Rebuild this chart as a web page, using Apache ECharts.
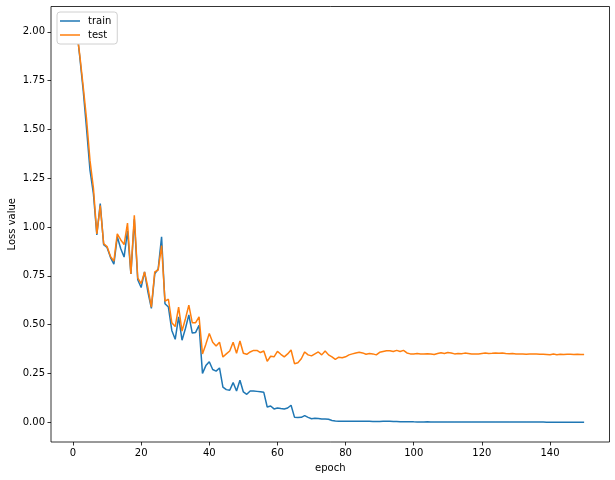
<!DOCTYPE html>
<html>
<head>
<meta charset="utf-8">
<script src="https://cdn.jsdelivr.net/npm/echarts@6/dist/echarts.min.js"></script>
<style>html,body{margin:0;padding:0;background:#fff}#c{width:615px;height:480px}</style>
</head>
<body>
<div id="c"></div>
<script>
const seriesNames = ['train', 'test'];
const xTicks = [0, 20, 40, 60, 80, 100, 120, 140];
const yTicks = [0, 0.25, 0.5, 0.75, 1.0, 1.25, 1.5, 1.75, 2.0];

const trainLoss = [
  2.03, 1.87, 1.70, 1.50, 1.29, 1.17, 0.96, 1.12, 0.91, 0.895,
  0.845, 0.81, 0.95, 0.89, 0.846, 0.98, 0.76, 1.04, 0.73, 0.69,
  0.77, 0.667, 0.583, 0.76, 0.785, 0.95, 0.607, 0.59, 0.47, 0.425,
  0.54, 0.42, 0.48, 0.55, 0.457, 0.46, 0.497, 0.25, 0.29, 0.31,
  0.27, 0.262, 0.278, 0.18, 0.167, 0.164, 0.203, 0.16, 0.215, 0.155,
  0.143, 0.16, 0.16, 0.158, 0.156, 0.153, 0.078, 0.083, 0.068, 0.073,
  0.07, 0.068, 0.073, 0.087, 0.026, 0.024, 0.025, 0.034, 0.025, 0.018,
  0.02, 0.019, 0.016, 0.017, 0.015, 0.009, 0.006, 0.005, 0.005, 0.005,
  0.005, 0.0055, 0.005, 0.0048, 0.0052, 0.0045, 0.0045, 0.004, 0.004, 0.0042,
  0.0048, 0.005, 0.0045, 0.004, 0.0035, 0.0025, 0.002, 0.002, 0.002, 0.0018,
  0.0017, 0.0016, 0.0016, 0.0018, 0.0017, 0.0015, 0.0015, 0.0014, 0.0013, 0.0012,
  0.0012, 0.0011, 0.0011, 0.001, 0.001, 0.001, 0.0009, 0.0009, 0.0009, 0.0008,
  0.0008, 0.0008, 0.0008, 0.0007, 0.0007, 0.0007, 0.0007, 0.0006, 0.0006, 0.0006,
  0.0006, 0.0006, 0.0005, 0.0005, 0.0005, 0.0005, 0.0005, 0.0005, 0.0004, 0.0004,
  0.0004, 0.0004, 0.0004, 0.0004, 0.0004, 0.0004, 0.0003, 0.0003, 0.0003, 0.0003
];

const testLoss = [
  2.02, 1.88, 1.72, 1.55, 1.34, 1.20, 0.965, 1.11, 0.915, 0.90,
  0.85, 0.825, 0.965, 0.935, 0.91, 1.02, 0.76, 1.06, 0.74, 0.71,
  0.77, 0.69, 0.59, 0.77, 0.78, 0.905, 0.62, 0.63, 0.51, 0.49,
  0.59, 0.467, 0.53, 0.60, 0.51, 0.51, 0.54, 0.35, 0.40, 0.455,
  0.41, 0.39, 0.41, 0.334, 0.35, 0.365, 0.41, 0.353, 0.416, 0.353,
  0.348, 0.36, 0.368, 0.368, 0.357, 0.365, 0.312, 0.338, 0.335, 0.363,
  0.348, 0.335, 0.35, 0.37, 0.30, 0.305, 0.325, 0.36, 0.345, 0.34,
  0.35, 0.36, 0.345, 0.365, 0.345, 0.335, 0.322, 0.333, 0.33, 0.335,
  0.345, 0.35, 0.355, 0.358, 0.355, 0.348, 0.352, 0.35, 0.345, 0.358,
  0.362, 0.366, 0.366, 0.362, 0.368, 0.362, 0.368, 0.355, 0.35, 0.35,
  0.352, 0.349, 0.350, 0.351, 0.350, 0.347, 0.352, 0.356, 0.352, 0.357,
  0.355, 0.350, 0.352, 0.351, 0.354, 0.352, 0.350, 0.349, 0.350, 0.352,
  0.354, 0.352, 0.353, 0.355, 0.353, 0.354, 0.352, 0.351, 0.352, 0.350,
  0.350, 0.349, 0.348, 0.349, 0.350, 0.349, 0.348, 0.348, 0.347, 0.346,
  0.349, 0.346, 0.348, 0.347, 0.348, 0.348, 0.347, 0.348, 0.347, 0.347
];

// epoch index: 1..N (x position of each sample)
const epochs = trainLoss.map((_, i) => i + 1);

const chart = echarts.init(document.getElementById('c'), null, {renderer: 'canvas'});
const font = 'DejaVu Sans';
const axisCommon = {
  type: 'value',
  axisLine: {show: false, onZero: false},
  splitLine: {show: false},
  nameMoveOverlap: false,
  axisTick: {show: true, inside: false, length: 3.5, lineStyle: {color: '#000', width: 0.8}},
  nameTextStyle: {fontFamily: font, fontSize: 10, color: '#000'}
};
chart.setOption({
  animation: false,
  backgroundColor: '#fff',
  color: ['#1f77b4', '#ff7f0e'],
  grid: {left: 51, right: 5.5, top: 6.5, bottom: 38, containLabel: false, outerBoundsMode: 'none',
    show: true, borderColor: '#000', borderWidth: 0.8, backgroundColor: 'transparent'},
  legend: {
    orient: 'vertical', left: 57, top: 12,
    data: seriesNames,
    icon: 'rect',
    itemWidth: 20, itemHeight: 1.5, itemGap: 4,
    padding: [4, 6, 4, 3],
    backgroundColor: '#fff', borderColor: '#d0d0d0', borderWidth: 1, borderRadius: 3,
    textStyle: {fontFamily: font, fontSize: 10, color: '#000', padding: [0, 0, 0, 3]}
  },
  xAxis: Object.assign({}, axisCommon, {
    min: -6.45, max: 157.45,
    name: 'epoch', nameLocation: 'middle', nameGap: 21,
    axisTick: Object.assign({}, axisCommon.axisTick, {customValues: xTicks}),
    axisLabel: {customValues: xTicks, fontFamily: font, fontSize: 10, color: '#000', margin: 6}
  }),
  yAxis: Object.assign({}, axisCommon, {
    min: -0.1014, max: 2.13,
    name: 'Loss value', nameLocation: 'middle', nameGap: 34,
    axisTick: Object.assign({}, axisCommon.axisTick, {customValues: yTicks}),
    axisLabel: {customValues: yTicks, fontFamily: font, fontSize: 10, color: '#000', margin: 6,
      formatter: v => v.toFixed(2)}
  }),
  series: [
    {name: seriesNames[0], type: 'line', symbol: 'none', lineStyle: {width: 1.5},
     data: epochs.map((e, i) => [e, trainLoss[i]])},
    {name: seriesNames[1], type: 'line', symbol: 'none', lineStyle: {width: 1.5},
     data: epochs.map((e, i) => [e, testLoss[i]])}
  ]
});
</script>
</body>
</html>
